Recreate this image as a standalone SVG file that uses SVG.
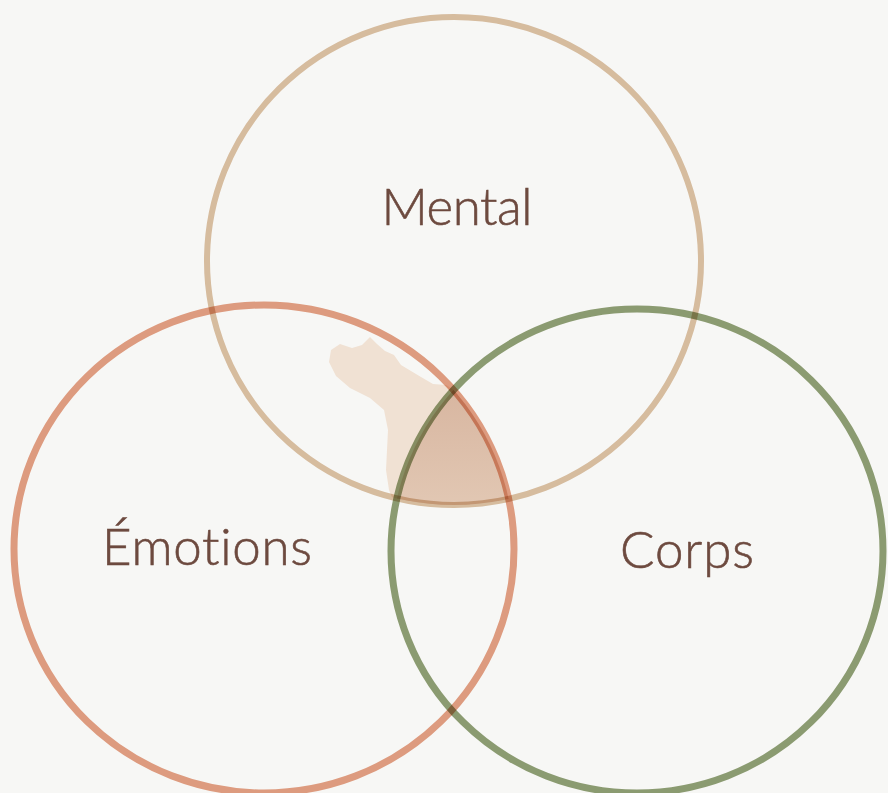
<svg xmlns="http://www.w3.org/2000/svg" width="888" height="793" viewBox="0 0 888 793">
  <defs>
    <style>
      .ring { fill: none; mix-blend-mode: multiply; }
      .label { font-family: "Lato", "Open Sans", "Liberation Sans", sans-serif; font-size: 51px; font-weight: 300; fill: #6d4a3f; stroke: #6d4a3f; stroke-width: 0.6px; text-anchor: middle; font-variant-ligatures: none; font-feature-settings: "liga" 0; }
    </style>
    <clipPath id="clipMental"><ellipse cx="454" cy="261" rx="247" ry="244"/></clipPath>
    <clipPath id="clipEmotions"><ellipse cx="264" cy="549" rx="250" ry="244"/></clipPath>
    <clipPath id="clipCorps"><ellipse cx="637" cy="551" rx="246" ry="242"/></clipPath>
    <linearGradient id="coreGrad" x1="0" y1="0" x2="0" y2="1">
      <stop offset="0" stop-color="#d6b39d"/>
      <stop offset="1" stop-color="#e2c8b4"/>
    </linearGradient>
  </defs>
  <rect x="0" y="0" width="888" height="793" fill="#f7f7f5"/>
  <g id="overlaps" style="isolation:isolate">
    <g clip-path="url(#clipMental)">
      <g clip-path="url(#clipEmotions)">
        <path id="stain" fill="#f0e1d3" d="M331,350 L340,344 L352,348 L362,345 L370,337 L377,344 L385,351 L394,355 L401,365 L411,371 L421,377 L433,384 L446,385 L470,400 L470,505 L395,505 L389,490 L386,470 L387,450 L388,430 L384,410 L370,398 L350,388 L336,376 L329,362 Z"/>
        <g clip-path="url(#clipCorps)">
          <rect x="380" y="370" width="150" height="140" fill="url(#coreGrad)"/>
        </g>
      </g>
    </g>
  </g>
  <g id="connectors"></g>
  <g id="node-mental">
    <ellipse class="ring" cx="454" cy="261" rx="247" ry="244" stroke="#ddc2a5" stroke-width="6"/>
    <text class="label" x="457" y="225" textLength="151">Mental</text>
  </g>
  <g id="node-emotions">
    <ellipse class="ring" cx="264" cy="549" rx="250" ry="244" stroke="#e5a084" stroke-width="7"/>
    <text class="label" x="207" y="565" textLength="210">Émotions</text>
  </g>
  <g id="node-corps">
    <ellipse class="ring" cx="637" cy="551" rx="246" ry="242" stroke="#90a076" stroke-width="7"/>
    <text class="label" x="687" y="568" textLength="134">Corps</text>
  </g>
</svg>
